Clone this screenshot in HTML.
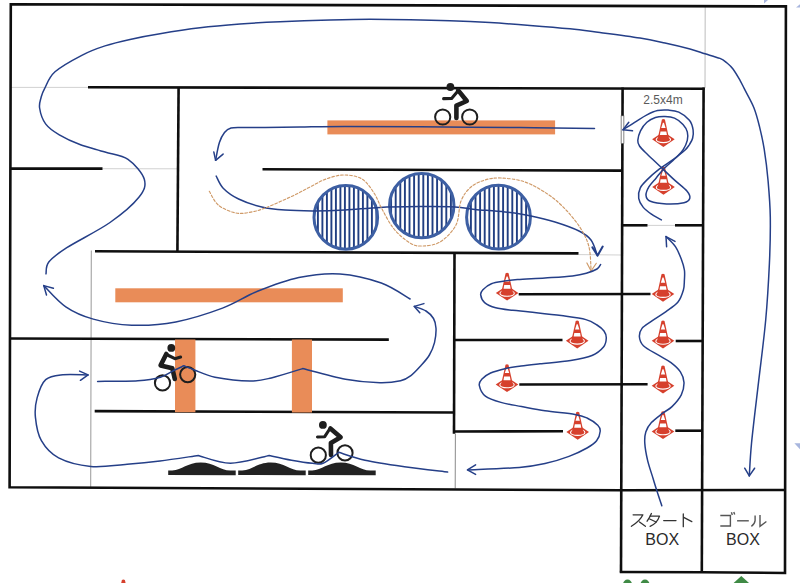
<!DOCTYPE html>
<html><head><meta charset="utf-8"><style>
html,body{margin:0;padding:0;background:#fff;}
body{width:800px;height:583px;overflow:hidden;font-family:"Liberation Sans",sans-serif;}
svg{display:block;}
</style></head><body>
<svg width="800" height="583" viewBox="0 0 800 583">
<defs><clipPath id="cc0"><circle cx="345.8" cy="217.4" r="32.3"/></clipPath><clipPath id="cc1"><circle cx="421.75" cy="205.6" r="32.7"/></clipPath><clipPath id="cc2"><circle cx="498.5" cy="217.2" r="32.4"/></clipPath></defs>
<rect width="800" height="583" fill="#fff"/>
<line x1="10" y1="87.4" x2="88" y2="87.4" stroke="#d2d2d2" stroke-width="1.0"/>
<line x1="102.5" y1="168.7" x2="177.5" y2="168.8" stroke="#d2d2d2" stroke-width="1.0"/>
<line x1="578.5" y1="254.6" x2="621" y2="255.0" stroke="#d2d2d2" stroke-width="1.0"/>
<line x1="91.3" y1="250.5" x2="90.7" y2="487.5" stroke="#999" stroke-width="1.0"/>
<line x1="455.4" y1="433.8" x2="455.2" y2="488.5" stroke="#8a8a8a" stroke-width="1.0"/>
<line x1="705.2" y1="6" x2="705" y2="88" stroke="#bdbdbd" stroke-width="1.0"/>
<line x1="647.5" y1="225.4" x2="675" y2="225.4" stroke="#d2d2d2" stroke-width="1.0"/>
<polyline points="619.8,572.0 702,572.3 785,573.0 785.9,6.4 10.8,4.2 9.6,487.3 621,490.3 785,490" fill="none" stroke="#0e0e0e" stroke-width="2.6" stroke-linejoin="miter"/>
<line x1="88" y1="87.2" x2="704.6" y2="88.7" stroke="#0e0e0e" stroke-width="2.6"/>
<line x1="178.6" y1="87" x2="177.4" y2="252" stroke="#0e0e0e" stroke-width="2.6"/>
<line x1="10" y1="168.6" x2="102.5" y2="168.6" stroke="#0e0e0e" stroke-width="2.6"/>
<line x1="262.5" y1="169.3" x2="621" y2="170.6" stroke="#0e0e0e" stroke-width="2.6"/>
<line x1="95" y1="251.3" x2="578.5" y2="253.4" stroke="#0e0e0e" stroke-width="2.6"/>
<line x1="454.5" y1="252.5" x2="454" y2="433.8" stroke="#0e0e0e" stroke-width="2.6"/>
<line x1="10" y1="338.5" x2="388.8" y2="339.6" stroke="#0e0e0e" stroke-width="2.6"/>
<line x1="94.7" y1="411.1" x2="454" y2="412.5" stroke="#0e0e0e" stroke-width="2.6"/>
<line x1="518.7" y1="294.2" x2="650.5" y2="294.0" stroke="#0e0e0e" stroke-width="2.6"/>
<line x1="454" y1="340" x2="562.5" y2="340" stroke="#0e0e0e" stroke-width="2.6"/>
<line x1="519.3" y1="384.5" x2="647.6" y2="384.3" stroke="#0e0e0e" stroke-width="2.6"/>
<line x1="454" y1="431.5" x2="563" y2="431.3" stroke="#0e0e0e" stroke-width="2.6"/>
<line x1="622.6" y1="87.5" x2="621" y2="572.5" stroke="#0e0e0e" stroke-width="2.6"/>
<line x1="703.6" y1="87.5" x2="701.8" y2="572.5" stroke="#0e0e0e" stroke-width="2.6"/>
<line x1="621.5" y1="225.3" x2="647.5" y2="225.3" stroke="#0e0e0e" stroke-width="2.6"/>
<line x1="675" y1="225.3" x2="703" y2="225.3" stroke="#0e0e0e" stroke-width="2.6"/>
<line x1="675.7" y1="341.0" x2="703" y2="341.0" stroke="#0e0e0e" stroke-width="2.6"/>
<line x1="675.3" y1="430.7" x2="702.5" y2="430.7" stroke="#0e0e0e" stroke-width="2.6"/>
<rect x="621.1" y="115.8" width="2.8" height="27.8" fill="#fff" stroke="#444" stroke-width="0.6"/>
<rect x="327.4" y="120.4" width="227.7" height="14.0" fill="#e98c58"/>
<rect x="115.3" y="288.3" width="227.5" height="14.0" fill="#e98c58"/>
<rect x="175" y="339.5" width="20.4" height="72.7" fill="#e98c58"/>
<rect x="291.9" y="339.5" width="20.1" height="73.0" fill="#e98c58"/>
<g clip-path="url(#cc0)"><rect x="303.45" y="184.10000000000002" width="1.9" height="66.6" fill="#213f82"/><rect x="307.95" y="184.10000000000002" width="1.9" height="66.6" fill="#213f82"/><rect x="312.45" y="184.10000000000002" width="1.9" height="66.6" fill="#213f82"/><rect x="316.95" y="184.10000000000002" width="1.9" height="66.6" fill="#213f82"/><rect x="321.45" y="184.10000000000002" width="1.9" height="66.6" fill="#213f82"/><rect x="325.95" y="184.10000000000002" width="1.9" height="66.6" fill="#213f82"/><rect x="330.45" y="184.10000000000002" width="1.9" height="66.6" fill="#213f82"/><rect x="334.95" y="184.10000000000002" width="1.9" height="66.6" fill="#213f82"/><rect x="339.45" y="184.10000000000002" width="1.9" height="66.6" fill="#213f82"/><rect x="343.95" y="184.10000000000002" width="1.9" height="66.6" fill="#213f82"/><rect x="348.45" y="184.10000000000002" width="1.9" height="66.6" fill="#213f82"/><rect x="352.95" y="184.10000000000002" width="1.9" height="66.6" fill="#213f82"/><rect x="357.45" y="184.10000000000002" width="1.9" height="66.6" fill="#213f82"/><rect x="361.95" y="184.10000000000002" width="1.9" height="66.6" fill="#213f82"/><rect x="366.45" y="184.10000000000002" width="1.9" height="66.6" fill="#213f82"/><rect x="370.95" y="184.10000000000002" width="1.9" height="66.6" fill="#213f82"/><rect x="375.45" y="184.10000000000002" width="1.9" height="66.6" fill="#213f82"/><rect x="379.95" y="184.10000000000002" width="1.9" height="66.6" fill="#213f82"/><rect x="384.45" y="184.10000000000002" width="1.9" height="66.6" fill="#213f82"/></g>
<circle cx="345.8" cy="217.4" r="31.799999999999997" fill="none" stroke="#3d5fa3" stroke-width="3"/>
<g clip-path="url(#cc1)"><rect x="380.95" y="171.89999999999998" width="1.9" height="67.4" fill="#213f82"/><rect x="385.55" y="171.89999999999998" width="1.9" height="67.4" fill="#213f82"/><rect x="390.15" y="171.89999999999998" width="1.9" height="67.4" fill="#213f82"/><rect x="394.75" y="171.89999999999998" width="1.9" height="67.4" fill="#213f82"/><rect x="399.35" y="171.89999999999998" width="1.9" height="67.4" fill="#213f82"/><rect x="403.95" y="171.89999999999998" width="1.9" height="67.4" fill="#213f82"/><rect x="408.55" y="171.89999999999998" width="1.9" height="67.4" fill="#213f82"/><rect x="413.15" y="171.89999999999998" width="1.9" height="67.4" fill="#213f82"/><rect x="417.75" y="171.89999999999998" width="1.9" height="67.4" fill="#213f82"/><rect x="422.35" y="171.89999999999998" width="1.9" height="67.4" fill="#213f82"/><rect x="426.95" y="171.89999999999998" width="1.9" height="67.4" fill="#213f82"/><rect x="431.55" y="171.89999999999998" width="1.9" height="67.4" fill="#213f82"/><rect x="436.15" y="171.89999999999998" width="1.9" height="67.4" fill="#213f82"/><rect x="440.75" y="171.89999999999998" width="1.9" height="67.4" fill="#213f82"/><rect x="445.35" y="171.89999999999998" width="1.9" height="67.4" fill="#213f82"/><rect x="449.95" y="171.89999999999998" width="1.9" height="67.4" fill="#213f82"/><rect x="454.55" y="171.89999999999998" width="1.9" height="67.4" fill="#213f82"/><rect x="459.15" y="171.89999999999998" width="1.9" height="67.4" fill="#213f82"/><rect x="463.75" y="171.89999999999998" width="1.9" height="67.4" fill="#213f82"/></g>
<circle cx="421.75" cy="205.6" r="32.2" fill="none" stroke="#3d5fa3" stroke-width="3"/>
<g clip-path="url(#cc2)"><rect x="456.15" y="183.79999999999998" width="1.9" height="66.8" fill="#213f82"/><rect x="460.75" y="183.79999999999998" width="1.9" height="66.8" fill="#213f82"/><rect x="465.35" y="183.79999999999998" width="1.9" height="66.8" fill="#213f82"/><rect x="469.95" y="183.79999999999998" width="1.9" height="66.8" fill="#213f82"/><rect x="474.55" y="183.79999999999998" width="1.9" height="66.8" fill="#213f82"/><rect x="479.15" y="183.79999999999998" width="1.9" height="66.8" fill="#213f82"/><rect x="483.75" y="183.79999999999998" width="1.9" height="66.8" fill="#213f82"/><rect x="488.35" y="183.79999999999998" width="1.9" height="66.8" fill="#213f82"/><rect x="492.95" y="183.79999999999998" width="1.9" height="66.8" fill="#213f82"/><rect x="497.55" y="183.79999999999998" width="1.9" height="66.8" fill="#213f82"/><rect x="502.15" y="183.79999999999998" width="1.9" height="66.8" fill="#213f82"/><rect x="506.75" y="183.79999999999998" width="1.9" height="66.8" fill="#213f82"/><rect x="511.35" y="183.79999999999998" width="1.9" height="66.8" fill="#213f82"/><rect x="515.95" y="183.79999999999998" width="1.9" height="66.8" fill="#213f82"/><rect x="520.55" y="183.79999999999998" width="1.9" height="66.8" fill="#213f82"/><rect x="525.15" y="183.79999999999998" width="1.9" height="66.8" fill="#213f82"/><rect x="529.75" y="183.79999999999998" width="1.9" height="66.8" fill="#213f82"/><rect x="534.35" y="183.79999999999998" width="1.9" height="66.8" fill="#213f82"/><rect x="538.95" y="183.79999999999998" width="1.9" height="66.8" fill="#213f82"/></g>
<circle cx="498.5" cy="217.2" r="31.9" fill="none" stroke="#3d5fa3" stroke-width="3"/>
<path d="M168.2 475.0 L168.2 470.4 L172.2 470.4 C182.2 470.2 187.2 462.5 200.7 462.5 C214.2 462.5 220.2 470.4 230.2 470.6 L235.7 470.6 L235.7 475.2 Z" fill="#222"/>
<path d="M238.2 475.0 L238.2 470.4 L242.2 470.4 C252.2 470.2 257.2 462.5 270.7 462.5 C284.2 462.5 290.2 470.4 300.2 470.6 L305.7 470.6 L305.7 475.2 Z" fill="#222"/>
<path d="M308.2 475.0 L308.2 470.4 L312.2 470.4 C322.2 470.2 327.2 462.5 340.7 462.5 C354.2 462.5 360.2 470.4 370.2 470.6 L375.7 470.6 L375.7 475.2 Z" fill="#222"/>
<defs><g id="cone">
<path d="M-11.3 20.0 L0 12.6 L11.3 20.0 L0 27.7 Z" fill="#d6402d"/>
<ellipse cx="0" cy="20.4" rx="7.2" ry="3.0" fill="none" stroke="#fff" stroke-width="1.1"/>
<path d="M-1.5 0.3 Q0 -0.7 1.5 0.3 L5.9 20.2 Q0 22.6 -5.9 20.2 Z" fill="#d6402d"/>
<path d="M-0.5 3.5 L0.5 3.5 L2.2 8.7 L-2.2 8.7 Z" fill="#fff"/>
<path d="M-2.9 12.2 L2.9 12.2 L3.5 15.8 L-3.5 15.8 Z" fill="#fff"/>
</g></defs>
<use href="#cone" x="663.4" y="119.2"/>
<use href="#cone" x="663.5" y="167"/>
<use href="#cone" x="507.1" y="272.9"/>
<use href="#cone" x="577.2" y="320.7"/>
<use href="#cone" x="507" y="364.4"/>
<use href="#cone" x="577.7" y="412"/>
<use href="#cone" x="663" y="274"/>
<use href="#cone" x="663" y="320.8"/>
<use href="#cone" x="663" y="365.7"/>
<use href="#cone" x="663" y="411.4"/>
<use href="#cone" x="123.4" y="579.6"/>
<circle cx="450.4" cy="87" r="3.9" fill="#1e1e1e"/><polyline points="458.2,90.4 466.8,101 456.4,105.6 456.4,118" fill="none" stroke="#1e1e1e" stroke-width="4.6" stroke-linejoin="round" stroke-linecap="round"/><polyline points="457.5,91.5 451.6,98.4 443.6,98.6" fill="none" stroke="#1e1e1e" stroke-width="3.1" stroke-linejoin="round" stroke-linecap="round"/><circle cx="442.7" cy="117" r="7.6" fill="none" stroke="#1e1e1e" stroke-width="2.0"/><circle cx="469.7" cy="117" r="7.6" fill="none" stroke="#1e1e1e" stroke-width="2.0"/>
<circle cx="171.3" cy="347.9" r="3.9" fill="#1e1e1e"/><polyline points="166.3,354 160.6,365.4 172.3,368.2 174.8,379" fill="none" stroke="#1e1e1e" stroke-width="4.6" stroke-linejoin="round" stroke-linecap="round"/><polyline points="167.5,355 174.9,358.7 180.6,357.1" fill="none" stroke="#1e1e1e" stroke-width="3.1" stroke-linejoin="round" stroke-linecap="round"/><circle cx="162.5" cy="382.9" r="7.6" fill="none" stroke="#1e1e1e" stroke-width="2.0"/><circle cx="187.7" cy="374.6" r="7.6" fill="none" stroke="#1e1e1e" stroke-width="2.0"/>
<circle cx="322.9" cy="424.9" r="3.9" fill="#1e1e1e"/><polyline points="330.4,428.5 340.6,437.2 330.9,442.9 331,455" fill="none" stroke="#1e1e1e" stroke-width="4.6" stroke-linejoin="round" stroke-linecap="round"/><polyline points="329,430 324.7,436.7 317.5,437" fill="none" stroke="#1e1e1e" stroke-width="3.1" stroke-linejoin="round" stroke-linecap="round"/><circle cx="318.3" cy="455.2" r="7.6" fill="none" stroke="#1e1e1e" stroke-width="2.0"/><circle cx="345" cy="452.9" r="7.6" fill="none" stroke="#1e1e1e" stroke-width="2.0"/>
<path d="M97.6 381.4 C104.3 381.3 127.4 381.4 137.9 380.7 C148.4 380.0 154.4 378.9 160.4 377.2 C166.4 375.5 169.9 372.4 173.8 370.5 C177.7 368.6 182.1 366.6 183.8 365.8L183.8 365.8 C185.6 366.5 189.2 368.1 194.4 370.0 C199.6 371.9 205.7 375.4 215.0 377.2 C224.3 379.0 240.6 380.9 250.0 381.0 C259.4 381.1 262.5 380.0 271.3 377.9 C280.1 375.8 297.4 370.2 302.6 368.6L302.6 368.6 C309.8 370.4 332.6 376.9 345.5 379.3 C358.4 381.7 370.8 382.6 380.0 382.8 C389.2 383.0 395.5 381.9 400.6 380.7 C405.8 379.5 407.5 378.2 410.9 375.6 C414.3 373.0 418.1 368.7 421.2 365.3 C424.3 361.9 427.2 358.8 429.4 355.0 C431.6 351.2 433.4 347.1 434.5 342.6 C435.6 338.1 436.2 332.2 436.0 328.2 C435.8 324.2 435.2 321.4 433.5 318.5 C431.8 315.6 429.2 313.0 426.0 311.0 C422.8 309.0 416.2 307.2 414.3 306.4" fill="none" stroke="#253f88" stroke-width="1.5" stroke-linecap="round" stroke-linejoin="round" />
<polyline points="423.9,303.6 414.3,306.4 419.8,312.7" fill="none" stroke="#253f88" stroke-width="1.5" stroke-linecap="round" stroke-linejoin="round"/>
<path d="M410.1 299.0 C405.3 296.3 393.0 287.2 381.3 283.0 C369.6 278.8 353.8 274.8 340.0 273.9 C326.2 273.0 312.6 274.6 298.8 277.5 C285.1 280.4 270.2 286.2 257.5 291.3 C244.8 296.4 236.1 303.0 222.5 308.1 C208.9 313.2 190.9 319.0 175.8 321.9 C160.7 324.8 145.6 325.7 131.8 325.2 C118.1 324.7 104.3 322.2 93.3 319.1 C82.3 316.0 74.0 312.4 65.8 306.8 C57.5 301.2 47.4 289.1 43.8 285.6" fill="none" stroke="#253f88" stroke-width="1.5" stroke-linecap="round" stroke-linejoin="round" />
<polyline points="53.4,288.3 43.75,285.6 46.5,295" fill="none" stroke="#253f88" stroke-width="1.5" stroke-linecap="round" stroke-linejoin="round"/>
<path d="M46.0 273.8 C46.5 271.8 45.3 266.4 48.8 262.0 C52.3 257.6 56.6 254.3 66.8 247.7 C77.0 241.1 98.0 230.9 110.0 222.5 C122.0 214.1 133.2 204.5 138.9 197.3 C144.6 190.1 146.1 185.6 144.3 179.3 C142.5 173.0 134.6 164.0 128.0 159.4 C121.5 154.8 113.0 154.5 105.0 152.0 C97.0 149.5 87.5 147.3 79.9 144.5 C72.3 141.7 65.0 138.3 59.3 134.9 C53.6 131.5 48.9 128.4 45.6 123.9 C42.3 119.4 40.3 112.5 39.6 108.0 C38.9 103.5 40.4 100.3 41.2 97.0 C42.1 93.7 42.4 92.5 44.7 88.3 C47.0 84.1 48.8 77.3 55.0 71.8 C61.2 66.3 73.5 59.6 81.8 55.3 C90.1 51.0 97.0 48.5 105.0 45.9 C113.0 43.2 120.8 41.4 130.0 39.4 C139.2 37.4 148.3 35.7 160.0 33.8 C171.7 31.8 186.7 29.4 200.0 27.8 C213.3 26.1 226.7 25.0 240.0 24.0 C253.3 23.0 265.0 22.4 280.0 21.8 C295.0 21.1 315.0 20.4 330.0 20.0 C345.0 19.6 356.7 19.3 370.0 19.3 C383.3 19.3 396.7 19.5 410.0 19.8 C423.3 20.0 436.7 20.3 450.0 20.8 C463.3 21.2 476.7 21.8 490.0 22.6 C503.3 23.4 516.7 24.4 530.0 25.4 C543.3 26.4 558.3 27.6 570.0 28.8 C581.7 29.9 588.3 31.0 600.0 32.5 C611.7 34.0 629.2 36.2 640.0 38.0 C650.8 39.8 656.7 41.2 665.0 43.0 C673.3 44.8 683.3 47.2 690.0 49.0 C696.7 50.8 700.0 52.2 705.0 53.8 C710.0 55.3 716.3 56.9 720.0 58.4 C723.7 59.9 724.8 61.2 727.0 63.0 C729.2 64.8 730.8 66.1 733.0 69.0 C735.2 71.9 738.1 77.0 740.0 80.3 C741.9 83.6 742.1 84.3 744.4 88.9 C746.7 93.5 751.4 101.4 753.9 107.7 C756.4 114.0 757.8 119.7 759.5 126.6 C761.2 133.5 762.8 140.3 764.2 149.2 C765.6 158.1 767.0 168.7 768.0 180.0 C769.0 191.3 770.1 203.3 770.3 217.2 C770.5 231.1 770.2 246.4 769.4 263.5 C768.6 280.6 767.5 300.3 765.7 320.0 C763.9 339.7 761.0 361.1 758.6 381.7 C756.2 402.3 753.0 427.8 751.5 443.5 C750.0 459.2 749.7 470.5 749.3 475.9" fill="none" stroke="#253f88" stroke-width="1.5" stroke-linecap="round" stroke-linejoin="round" />
<polyline points="744.7,468.2 749.3,475.9 754.6,468.2" fill="none" stroke="#253f88" stroke-width="1.5" stroke-linecap="round" stroke-linejoin="round"/>
<path d="M661.8 505.7 C661.2 503.8 659.4 498.7 658.0 494.3 C656.6 489.9 655.0 484.9 653.3 479.2 C651.6 473.5 649.0 466.4 647.6 460.4 C646.2 454.4 645.1 448.1 644.8 443.4 C644.5 438.7 644.7 435.5 645.8 432.0 C646.9 428.5 648.6 425.7 651.4 422.6 C654.2 419.5 659.3 415.9 662.7 413.2 C666.1 410.5 668.9 409.7 672.0 406.6 C675.1 403.5 679.3 398.8 681.3 394.8 C683.3 390.8 684.1 386.4 684.0 382.6 C683.9 378.8 682.6 375.1 680.4 371.8 C678.2 368.5 674.6 365.4 671.0 362.6 C667.4 359.8 663.1 358.0 658.5 355.2 C653.9 352.4 646.6 348.8 643.4 345.7 C640.2 342.6 639.6 339.7 639.4 336.8 C639.2 333.9 640.0 331.0 642.0 328.4 C644.0 325.8 647.6 324.0 651.6 321.2 C655.6 318.4 661.6 314.8 666.0 311.6 C670.4 308.4 675.1 305.6 678.0 302.0 C680.9 298.4 682.3 293.7 683.4 290.0 C684.5 286.3 684.2 283.3 684.4 280.0 C684.6 276.7 684.9 273.3 684.4 270.0 C683.9 266.7 683.1 263.9 681.6 260.0 C680.1 256.1 678.2 250.7 675.6 246.8 C673.0 242.9 667.6 238.3 666.0 236.6" fill="none" stroke="#253f88" stroke-width="1.5" stroke-linecap="round" stroke-linejoin="round" />
<polyline points="666.6,246.8 666,236.6 675,241.4" fill="none" stroke="#253f88" stroke-width="1.5" stroke-linecap="round" stroke-linejoin="round"/>
<path d="M661.4 219.9 C659.8 219.0 654.9 216.5 651.9 214.4 C648.9 212.3 645.3 209.8 643.1 207.1 C640.9 204.4 639.2 201.5 638.7 198.3 C638.2 195.1 638.7 191.2 640.2 188.1 C641.7 184.9 644.3 182.6 647.5 179.4 C650.7 176.2 654.8 172.6 659.2 169.2 C663.6 165.8 669.5 162.2 673.8 159.0 C678.1 155.8 682.5 152.4 685.1 150.0 C687.7 147.6 688.1 146.5 689.4 144.6 C690.6 142.7 692.0 140.8 692.6 138.3 C693.2 135.8 693.6 132.8 693.1 129.8 C692.6 126.8 691.8 123.1 689.4 120.2 C687.0 117.3 682.3 113.9 678.8 112.2 C675.2 110.5 671.6 110.4 668.1 110.1 C664.6 109.8 661.0 109.8 657.5 110.6 C654.0 111.4 650.4 113.1 646.9 114.9 C643.4 116.7 640.3 118.8 636.3 121.3 C632.3 123.8 625.2 128.4 623.0 129.8" fill="none" stroke="#253f88" stroke-width="1.5" stroke-linecap="round" stroke-linejoin="round" />
<polyline points="628.8,122.3 623,129.8 632.5,130.8" fill="none" stroke="#253f88" stroke-width="1.5" stroke-linecap="round" stroke-linejoin="round"/>
<path d="M637.8 140.4 C638.0 137.9 639.0 133.8 640.5 130.8 C642.0 127.8 644.4 124.5 646.9 122.3 C649.4 120.1 652.4 118.5 655.4 117.5 C658.4 116.5 661.8 116.4 665.0 116.5 C668.2 116.6 671.5 116.8 674.5 118.1 C677.5 119.4 680.9 122.1 683.0 124.4 C685.1 126.7 686.6 129.2 687.3 131.9 C688.0 134.6 688.0 137.4 687.3 140.4 C686.6 143.4 684.8 147.2 683.0 150.0 C681.2 152.8 680.0 153.8 676.7 157.0 C673.5 160.2 666.9 165.7 663.5 169.2 C660.1 172.7 658.6 175.0 656.2 177.9 C653.8 180.8 650.7 183.8 649.0 186.7 C647.3 189.6 645.8 193.0 646.0 195.4 C646.2 197.8 647.0 199.9 650.4 201.3 C653.8 202.7 660.9 203.7 666.5 203.9 C672.1 204.1 680.1 203.6 684.0 202.7 C687.9 201.8 689.3 200.2 689.8 198.3 C690.3 196.4 689.6 194.2 686.9 191.0 C684.2 187.8 678.4 183.7 673.8 179.4 C669.2 175.2 663.8 169.9 659.2 165.5 C654.6 161.1 649.3 156.2 646.0 153.0 C642.7 149.8 640.9 148.1 639.5 146.0 C638.1 143.9 637.6 142.9 637.8 140.4Z" fill="none" stroke="#253f88" stroke-width="1.5" stroke-linecap="round" stroke-linejoin="round" />
<path d="M594.5 128.6 C582.1 128.4 549.1 127.9 520.0 127.6 C490.9 127.3 449.2 127.0 420.0 126.8 C390.8 126.6 365.0 126.4 345.0 126.4 C325.0 126.4 313.3 126.8 300.0 127.0 C286.7 127.2 274.7 127.5 265.0 127.6 C255.3 127.7 247.7 127.3 242.0 127.4 C236.3 127.5 233.9 127.2 231.0 128.0 C228.1 128.8 226.4 130.1 224.5 132.5 C222.6 134.9 220.9 137.9 219.4 142.5 C217.9 147.1 216.2 157.3 215.6 160.3" fill="none" stroke="#253f88" stroke-width="1.5" stroke-linecap="round" stroke-linejoin="round" />
<polyline points="213.8,151.9 215.6,160.3 223.1,154.1" fill="none" stroke="#253f88" stroke-width="1.5" stroke-linecap="round" stroke-linejoin="round"/>
<path d="M216.2 176.1 C217.4 178.1 219.5 184.4 223.2 188.2 C226.9 192.0 232.2 195.9 238.6 199.0 C245.0 202.1 254.1 205.2 261.8 207.0 C269.5 208.8 276.5 209.4 285.0 210.1 C293.5 210.8 302.7 210.9 312.7 210.9 C322.7 210.9 333.8 210.6 345.0 210.0 C356.2 209.4 367.5 208.0 380.0 207.4 C392.5 206.8 407.5 206.7 420.0 206.6 C432.5 206.5 445.8 206.5 455.0 207.0 C464.2 207.5 466.7 208.6 475.0 209.4 C483.3 210.2 495.7 210.9 505.0 212.0 C514.3 213.1 522.7 214.3 531.0 216.0 C539.3 217.7 547.0 219.5 555.0 222.0 C563.0 224.5 573.0 228.0 579.0 231.0 C585.0 234.0 587.9 235.9 591.0 240.0 C594.1 244.1 596.3 252.8 597.4 255.4" fill="none" stroke="#253f88" stroke-width="1.5" stroke-linecap="round" stroke-linejoin="round" />
<polyline points="592.4,247.4 597.6,255.6 602.7,246.6" fill="none" stroke="#253f88" stroke-width="2.0" stroke-linecap="round" stroke-linejoin="round"/>
<path d="M209.3 191.3 C210.8 193.6 214.1 201.6 218.5 205.2 C222.9 208.8 230.1 211.8 235.5 212.9 C240.9 214.1 245.8 213.0 251.0 212.1 C256.1 211.2 259.4 210.2 266.4 207.5 C273.3 204.8 285.4 199.3 292.7 195.9 C300.0 192.5 304.4 189.8 310.0 187.0 C315.6 184.2 320.3 181.0 326.0 179.0 C331.7 177.0 338.0 175.0 344.0 175.0 C350.0 175.0 357.0 176.0 362.0 179.0 C367.0 182.0 370.7 188.0 374.0 193.0 C377.3 198.0 378.7 203.0 382.0 209.0 C385.3 215.0 389.3 223.3 394.0 229.0 C398.7 234.7 405.3 240.2 410.0 243.0 C414.7 245.8 417.0 246.2 422.0 246.0 C427.0 245.8 434.3 245.5 440.0 242.0 C445.7 238.5 452.5 231.8 456.0 225.0 C459.5 218.2 458.5 207.3 461.0 201.0 C463.5 194.7 467.0 190.5 471.0 187.0 C475.0 183.5 480.0 181.5 485.0 180.0 C490.0 178.5 494.3 177.7 501.0 178.0 C507.7 178.3 517.0 179.2 525.0 182.0 C533.0 184.8 542.0 190.2 549.0 195.0 C556.0 199.8 561.7 205.3 567.0 211.0 C572.3 216.7 577.3 223.0 581.0 229.0 C584.7 235.0 587.3 240.0 589.0 247.0 C590.7 254.0 590.8 267.0 591.1 271.0" fill="none" stroke="#cf9a68" stroke-width="1.15" stroke-linecap="round" stroke-linejoin="round" stroke-dasharray="2.6 1.9" stroke-linecap="butt"/>
<polyline points="586.9,262.9 591.1,271 596.3,263.3" fill="none" stroke="#cf9a68" stroke-width="1.15" stroke-linecap="round" stroke-linejoin="round"/>
<path d="M600.6 264.6 C600.0 265.3 599.4 267.6 597.0 269.0 C594.6 270.4 590.4 272.1 586.3 273.3 C582.2 274.5 579.4 275.2 572.5 276.0 C565.6 276.8 554.2 277.4 545.0 278.0 C535.8 278.6 524.3 279.1 517.5 279.6 C510.7 280.1 508.7 280.4 504.3 281.1 C499.9 281.8 495.0 282.3 491.4 283.7 C487.8 285.1 484.7 287.8 482.9 289.7 C481.1 291.6 480.4 292.8 480.7 294.9 C481.0 297.0 482.1 300.5 484.6 302.6 C487.1 304.7 491.0 306.4 495.7 307.7 C500.4 309.0 507.1 309.6 512.8 310.3 C518.5 311.0 521.9 311.1 530.0 312.0 C538.1 312.9 551.9 314.3 561.2 315.6 C570.5 316.9 579.9 318.0 585.9 319.6 C591.9 321.2 594.0 323.1 597.0 325.0 C600.0 326.9 602.5 328.8 604.0 331.0 C605.5 333.2 606.4 335.3 606.3 338.0 C606.2 340.7 605.9 344.1 603.5 347.0 C601.1 349.9 597.5 353.2 592.0 355.5 C586.5 357.8 579.4 359.1 570.7 360.5 C562.0 361.9 548.3 362.9 540.0 363.8 C531.7 364.7 526.7 365.2 521.0 366.0 C515.3 366.8 511.1 367.2 506.0 368.4 C500.9 369.6 494.6 371.2 490.6 373.0 C486.6 374.8 483.9 376.9 482.0 379.0 C480.1 381.1 478.7 382.5 479.3 385.4 C479.9 388.3 481.8 393.4 485.4 396.2 C489.0 399.0 494.9 400.7 500.9 402.4 C506.9 404.1 514.1 405.1 521.5 406.5 C528.9 407.9 536.1 409.5 545.0 410.8 C553.9 412.1 568.0 413.2 575.0 414.4 C582.0 415.6 583.2 416.2 587.0 418.0 C590.8 419.8 595.6 423.0 597.8 425.2 C600.0 427.4 600.4 428.6 600.2 431.2 C600.0 433.8 598.8 438.0 596.6 440.8 C594.4 443.6 591.6 445.4 587.0 448.0 C582.4 450.6 576.0 453.8 569.0 456.4 C562.0 459.0 553.3 461.8 545.0 463.6 C536.7 465.5 532.1 466.4 519.3 467.5 C506.4 468.6 476.5 469.5 467.9 469.9" fill="none" stroke="#253f88" stroke-width="1.5" stroke-linecap="round" stroke-linejoin="round" />
<polyline points="475.6,464.9 467.4,469.8 475.6,474.4" fill="none" stroke="#253f88" stroke-width="1.5" stroke-linecap="round" stroke-linejoin="round"/>
<path d="M447.6 472.1 C440.4 471.2 418.2 468.7 404.4 466.7 C390.6 464.7 375.9 462.6 365.0 460.2 C354.1 457.8 343.1 453.6 338.7 452.3L338.7 452.3 C336.1 454.1 327.4 461.5 323.0 463.3 C318.6 465.1 317.8 463.8 312.5 463.3 C307.2 462.8 298.7 461.5 291.5 460.2 C284.3 458.9 272.9 456.3 269.2 455.5L269.2 455.5 C262.8 456.8 242.3 463.2 230.5 463.2 C218.7 463.2 203.6 456.8 198.2 455.5L198.2 455.5 C191.8 456.4 171.8 459.5 160.0 461.0 C148.2 462.5 138.7 463.4 127.1 464.3 C115.5 465.2 102.1 467.5 90.7 466.4 C79.3 465.3 66.8 462.2 58.6 457.9 C50.4 453.6 45.3 447.5 41.4 440.7 C37.5 433.9 36.1 424.2 35.4 417.1 C34.7 410.0 35.4 404.1 37.1 397.9 C38.8 391.6 41.4 383.5 45.7 379.6 C50.0 375.7 55.8 375.5 62.9 374.7 C70.0 373.9 83.9 374.9 88.1 374.9" fill="none" stroke="#253f88" stroke-width="1.5" stroke-linecap="round" stroke-linejoin="round" />
<polyline points="79.6,371.1 88.1,374.9 80.4,380.3" fill="none" stroke="#253f88" stroke-width="1.5" stroke-linecap="round" stroke-linejoin="round"/>
<text x="663" y="104.3" font-family="Liberation Sans, sans-serif" font-size="12" fill="#5a5a5a" text-anchor="middle">2.5x4m</text>
<text x="662.2" y="545" font-family="Liberation Sans, sans-serif" font-size="16" fill="#2a2a2a" text-anchor="middle">BOX</text>
<text x="743" y="545" font-family="Liberation Sans, sans-serif" font-size="16" fill="#2a2a2a" text-anchor="middle">BOX</text>
<g fill="none" stroke="#333" stroke-width="1.3" stroke-linecap="round" stroke-linejoin="round"><path d="M633.1 514.8 L642.9 514.8 Q640 521 631.4 526.3"/><path d="M639.5 522 L645.4 526.3"/><path d="M651.4 513.5 Q649.5 518 647.1 521.2"/><path d="M650.1 516.1 L659.5 516.1 Q657 523.5 650.1 526.3"/><path d="M649.7 519 L656.1 522"/><path d="M663.7 520.6 L676 520.6"/><path d="M683.3 514 L683.3 526.7"/><path d="M683.7 517.4 L691.8 521.6"/></g><g fill="none" stroke="#555" stroke-width="1.4" stroke-linecap="butt" stroke-linejoin="miter"><path d="M720.3 515.5 L730.4 515.5 L730.4 526 L720.3 526"/><path d="M731.4 512.3 L732.3 514.9"/><path d="M733.8 512.0 L734.7 514.6"/><path d="M737.1 520.8 L748.8 520.8"/><path d="M755.1 515.5 L755.1 520.5 Q754.8 524 751.4 526.4"/><path d="M760 515.1 L760 526.4 L766.4 521.5"/></g>
<path d="M764 0 L768 0 L764 3.6 Z" fill="#a8b6de"/>
<path d="M800 4.2 L800 7.4 L796 7.4 Z" fill="#a8b6de"/>
<path d="M794.4 443.3 L800 443.3 L800 449.2 Z" fill="#a8b6de"/>
<circle cx="627.5" cy="584" r="4.4" fill="#3f8a45"/>
<circle cx="645" cy="584" r="4.4" fill="#3f8a45"/>
<path d="M741.3 576 L749 583 L733.6 583 Z" fill="#3f8a45"/>
</svg>
</body></html>
